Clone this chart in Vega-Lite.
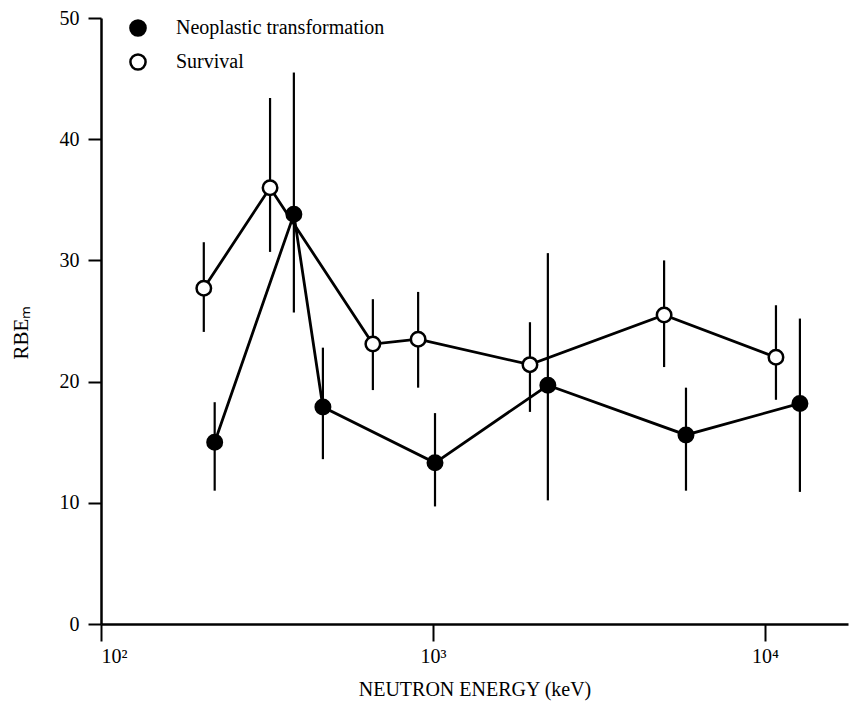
{
  "$schema": "https://vega.github.io/schema/vega-lite/v6.json",
  "autosize": "none",
  "width": 747,
  "height": 606,
  "padding": {"left": 101, "top": 18, "right": 2, "bottom": 83},
  "background": "white",
  "config": {
    "view": {"stroke": null},
    "font": "Liberation Serif",
    "axis": {
      "domainColor": "black",
      "domainWidth": 2.5,
      "tickColor": "black",
      "tickWidth": 2,
      "labelColor": "black",
      "titleColor": "black",
      "labelFont": "Liberation Serif",
      "titleFont": "Liberation Serif",
      "labelFontWeight": "normal",
      "titleFontWeight": "normal",
      "grid": false
    },
    "legend": {
      "labelFont": "Liberation Serif",
      "labelColor": "black"
    }
  },
  "data": {
    "values": [
      {"series": "Neoplastic transformation", "energy": 220, "rbe": 15.0, "lo": 11.0, "hi": 18.3},
      {"series": "Neoplastic transformation", "energy": 381, "rbe": 33.8, "lo": 25.7, "hi": 45.5},
      {"series": "Neoplastic transformation", "energy": 466, "rbe": 17.9, "lo": 13.6, "hi": 22.8},
      {"series": "Neoplastic transformation", "energy": 1014, "rbe": 13.3, "lo": 9.7, "hi": 17.4},
      {"series": "Neoplastic transformation", "energy": 2218, "rbe": 19.7, "lo": 10.2, "hi": 30.6},
      {"series": "Neoplastic transformation", "energy": 5781, "rbe": 15.6, "lo": 11.0, "hi": 19.5},
      {"series": "Neoplastic transformation", "energy": 12740, "rbe": 18.2, "lo": 10.9, "hi": 25.2},
      {"series": "Survival", "energy": 204, "rbe": 27.7, "lo": 24.1, "hi": 31.5},
      {"series": "Survival", "energy": 323, "rbe": 36.0, "lo": 30.7, "hi": 43.4},
      {"series": "Survival", "energy": 659, "rbe": 23.1, "lo": 19.3, "hi": 26.8},
      {"series": "Survival", "energy": 902, "rbe": 23.5, "lo": 19.5, "hi": 27.4},
      {"series": "Survival", "energy": 1959, "rbe": 21.4, "lo": 17.5, "hi": 24.9},
      {"series": "Survival", "energy": 4967, "rbe": 25.5, "lo": 21.2, "hi": 30.0},
      {"series": "Survival", "energy": 10790, "rbe": 22.0, "lo": 18.5, "hi": 26.3}
    ]
  },
  "encoding": {
    "x": {
      "field": "energy",
      "type": "quantitative",
      "scale": {"type": "log", "domain": [100, 17783], "nice": false},
      "axis": {
        "values": [100, 1000, 10000],
        "labelExpr": "datum.value == 100 ? '10²' : datum.value == 1000 ? '10³' : '10⁴'",
        "tickSize": 17,
        "labelPadding": 5,
        "labelFontSize": 20,
        "title": "NEUTRON ENERGY (keV)",
        "titleFontSize": 20,
        "titlePadding": 13
      }
    }
  },
  "layer": [
    {
      "mark": {"type": "rule", "color": "black", "strokeWidth": 2.2},
      "encoding": {
        "y": {"field": "lo", "type": "quantitative"},
        "y2": {"field": "hi"}
      }
    },
    {
      "mark": {"type": "line", "color": "black", "strokeWidth": 2.8},
      "encoding": {
        "y": {"field": "rbe", "type": "quantitative"},
        "detail": {"field": "series"},
        "order": {"field": "energy", "type": "quantitative"}
      }
    },
    {
      "mark": {"type": "point", "shape": "circle", "filled": true, "stroke": "black", "strokeWidth": 2.5, "size": 210, "opacity": 1},
      "encoding": {
        "y": {
          "field": "rbe",
          "type": "quantitative",
          "scale": {"domain": [0, 50], "nice": false},
          "axis": {
            "values": [0, 10, 20, 30, 40, 50],
            "tickSize": 13,
            "labelPadding": 9,
            "labelFontSize": 20,
            "title": "RBEₘ",
            "titleFontSize": 21,
            "titleX": -80,
            "titleY": 314,
            "titleAngle": -90,
            "titleBaseline": "middle",
            "titleAlign": "center"
          }
        },
        "fill": {
          "field": "series",
          "type": "nominal",
          "scale": {"domain": ["Neoplastic transformation", "Survival"], "range": ["black", "white"]},
          "legend": {
            "title": null,
            "orient": "none",
            "legendX": 27,
            "legendY": 0,
            "symbolType": "circle",
            "symbolSize": 230,
            "symbolStrokeColor": "black",
            "symbolStrokeWidth": 2.5,
            "labelFontSize": 20,
            "labelLimit": 500,
            "labelOffset": 28,
            "rowPadding": 8,
            "padding": 0
          }
        }
      }
    }
  ]
}
